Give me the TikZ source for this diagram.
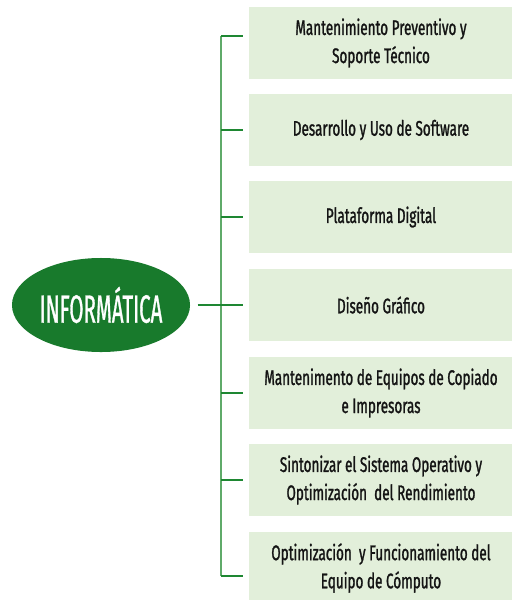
\documentclass[tikz,border=0pt]{standalone}
\usepackage{fontspec}
\setmainfont{Fira Sans}[FakeStretch=0.64, FakeBold=1.2]
\newfontfamily\rootfont{Fira Sans}[FakeStretch=0.52, FakeBold=0.8]
\definecolor{rootgreen}{RGB}{24,122,44}
\definecolor{boxgreen}{RGB}{226,239,218}
\definecolor{busgreen}{RGB}{95,170,105}
\definecolor{tickgreen}{RGB}{30,135,50}
\definecolor{inktext}{RGB}{20,20,20}
\tikzset{
  root/.style={ellipse, fill=rootgreen, text=white, minimum width=4.45cm, minimum height=2.35cm, inner sep=0pt, font=\rootfont\fontsize{28}{30}\selectfont},
  item/.style={rectangle, fill=boxgreen, text=inktext, minimum width=6.6cm, minimum height=1.8cm, align=center, font=\fontsize{15}{20}\selectfont},
  bus/.style={busgreen, line width=1.4pt},
  tick/.style={tickgreen, line width=1pt}
}
\usetikzlibrary{shapes.geometric}
\begin{document}
\begin{tikzpicture}[x=0.025cm, y=-0.025cm]
\clip (0,0) rectangle (512,600);
\node[root] (info) at (101,305) {INFORMÁTICA};
\node[item] (b1) at (381,43) {Mantenimiento Preventivo y\\Soporte Técnico};
\node[item] (b2) at (381,130) {Desarrollo y Uso de Software};
\node[item] (b3) at (381,217) {Plataforma Digital};
\node[item] (b4) at (381,305) {Diseño Gráfico};
\node[item] (b5) at (381,393) {Mantenimento de Equipos de Copiado\\e Impresoras};
\node[item] (b6) at (381,480) {Sintonizar el Sistema Operativo y\\Optimización~~del Rendimiento};
\node[item] (b7) at (381,568) {Optimización~~y Funcionamiento del\\Equipo de Cómputo};
\coordinate (top) at (221,36);
\coordinate (bot) at (221,576);
\draw[bus] (top) -- (bot);
\draw[tick] (top) -- ([xshift=-0.15cm]b1.west |- top);
\draw[tick] (top |- b2) -- ([xshift=-0.15cm]b2.west);
\draw[tick] (top |- b3) -- ([xshift=-0.15cm]b3.west);
\draw[tick, shorten <=0.18cm] (info.east) -- ([xshift=-0.15cm]b4.west);
\draw[tick] (top |- b5) -- ([xshift=-0.15cm]b5.west);
\draw[tick] (top |- b6) -- ([xshift=-0.15cm]b6.west);
\draw[tick] (bot) -- ([xshift=-0.15cm]b7.west |- bot);
\end{tikzpicture}
\end{document}
